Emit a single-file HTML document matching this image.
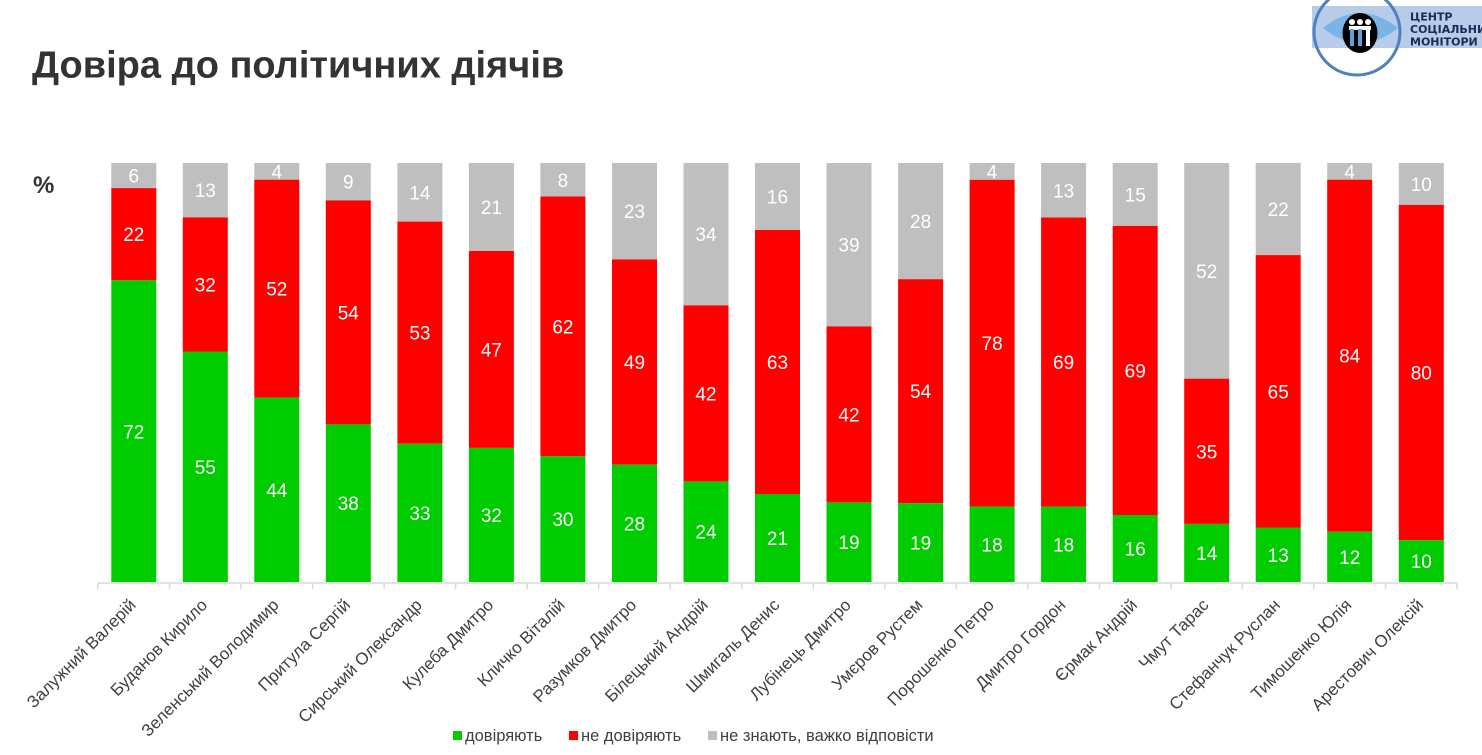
<!DOCTYPE html>
<html>
<head>
<meta charset="utf-8">
<style>
  html,body{margin:0;padding:0;background:#fff;}
  body{width:1482px;height:755px;overflow:hidden;position:relative;}
  svg{position:absolute;left:0;top:0;}
  .t{font-family:"Liberation Sans",Arial,sans-serif;}
</style>
</head>
<body>
<svg width="1482" height="755" viewBox="0 0 1482 755" xmlns="http://www.w3.org/2000/svg">
  <!-- Title -->
  <text class="t" x="32" y="77.5" font-size="38" font-weight="bold" fill="#333333">Довіра до політичних діячів</text>
  <text class="t" x="33" y="193" font-size="24" font-weight="bold" fill="#333333">%</text>

  <!-- Logo -->
  <rect x="1312" y="6" width="170" height="42" fill="#b8cbe8"/>
  <path d="M1323,28 Q1360,-2 1398,28 Q1360,58 1323,28 Z" fill="#7ab4e6"/>
  <ellipse cx="1360" cy="33" rx="17.5" ry="20" fill="#000"/>
  <g fill="#ffffff">
    <circle cx="1352" cy="22" r="3"/><circle cx="1360" cy="22" r="3"/><circle cx="1368" cy="22" r="3"/>
    <rect x="1349" y="26" width="22" height="4"/>
  </g>
  <g fill="#5ba3d9">
    <rect x="1350" y="29" width="4" height="17"/><rect x="1358" y="29" width="4" height="17"/>
  </g>
  <rect x="1366" y="29" width="4" height="17" fill="#ffffff"/>
  <circle cx="1357" cy="32" r="43" fill="none" stroke="#4f81bd" stroke-width="3"/>
  <g font-family="'DejaVu Sans',sans-serif" font-size="11" font-weight="bold" fill="#1b2a55">
    <text x="1410" y="20.5">ЦЕНТР</text>
    <text x="1410" y="33">СОЦІАЛЬНИ</text>
    <text x="1410" y="45.5">МОНІТОРИ</text>
  </g>

  <!-- Axis -->
  <g stroke="#d9d9d9" stroke-width="1.5">
    <line x1="98" y1="583" x2="1457" y2="583"/>
    <line x1="98" y1="583" x2="98" y2="589"/>
    <line x1="169.5" y1="583" x2="169.5" y2="589"/>
    <line x1="241.1" y1="583" x2="241.1" y2="589"/>
    <line x1="312.6" y1="583" x2="312.6" y2="589"/>
    <line x1="384.1" y1="583" x2="384.1" y2="589"/>
    <line x1="455.6" y1="583" x2="455.6" y2="589"/>
    <line x1="527.2" y1="583" x2="527.2" y2="589"/>
    <line x1="598.7" y1="583" x2="598.7" y2="589"/>
    <line x1="670.2" y1="583" x2="670.2" y2="589"/>
    <line x1="741.7" y1="583" x2="741.7" y2="589"/>
    <line x1="813.3" y1="583" x2="813.3" y2="589"/>
    <line x1="884.8" y1="583" x2="884.8" y2="589"/>
    <line x1="956.3" y1="583" x2="956.3" y2="589"/>
    <line x1="1027.8" y1="583" x2="1027.8" y2="589"/>
    <line x1="1099.4" y1="583" x2="1099.4" y2="589"/>
    <line x1="1170.9" y1="583" x2="1170.9" y2="589"/>
    <line x1="1242.4" y1="583" x2="1242.4" y2="589"/>
    <line x1="1313.9" y1="583" x2="1313.9" y2="589"/>
    <line x1="1385.5" y1="583" x2="1385.5" y2="589"/>
    <line x1="1457" y1="583" x2="1457" y2="589"/>
  </g>

  <!-- Bars: gray, red, green -->
  <g>
    <rect x="111.3" y="163" width="45" height="25.1" fill="#bfbfbf"/>
    <rect x="111.3" y="188.1" width="45" height="92.2" fill="#ff0000"/>
    <rect x="111.3" y="280.3" width="45" height="301.7" fill="#00cc00"/>
    <rect x="182.8" y="163" width="45" height="54.4" fill="#bfbfbf"/>
    <rect x="182.8" y="217.4" width="45" height="134.1" fill="#ff0000"/>
    <rect x="182.8" y="351.5" width="45" height="230.5" fill="#00cc00"/>
    <rect x="254.3" y="163" width="45" height="16.7" fill="#bfbfbf"/>
    <rect x="254.3" y="179.7" width="45" height="217.9" fill="#ff0000"/>
    <rect x="254.3" y="397.6" width="45" height="184.4" fill="#00cc00"/>
    <rect x="325.8" y="163" width="45" height="37.4" fill="#bfbfbf"/>
    <rect x="325.8" y="200.4" width="45" height="224.0" fill="#ff0000"/>
    <rect x="325.8" y="424.4" width="45" height="157.6" fill="#00cc00"/>
    <rect x="397.4" y="163" width="45" height="58.6" fill="#bfbfbf"/>
    <rect x="397.4" y="221.6" width="45" height="222.1" fill="#ff0000"/>
    <rect x="397.4" y="443.7" width="45" height="138.3" fill="#00cc00"/>
    <rect x="468.9" y="163" width="45" height="88" fill="#bfbfbf"/>
    <rect x="468.9" y="251" width="45" height="196.9" fill="#ff0000"/>
    <rect x="468.9" y="447.9" width="45" height="134.1" fill="#00cc00"/>
    <rect x="540.4" y="163" width="45" height="33.5" fill="#bfbfbf"/>
    <rect x="540.4" y="196.5" width="45" height="259.8" fill="#ff0000"/>
    <rect x="540.4" y="456.3" width="45" height="125.7" fill="#00cc00"/>
    <rect x="612" y="163" width="45" height="96.4" fill="#bfbfbf"/>
    <rect x="612" y="259.4" width="45" height="205.3" fill="#ff0000"/>
    <rect x="612" y="464.7" width="45" height="117.3" fill="#00cc00"/>
    <rect x="683.5" y="163" width="45" height="142.4" fill="#bfbfbf"/>
    <rect x="683.5" y="305.4" width="45" height="176" fill="#ff0000"/>
    <rect x="683.5" y="481.4" width="45" height="100.6" fill="#00cc00"/>
    <rect x="755" y="163" width="45" height="67" fill="#bfbfbf"/>
    <rect x="755" y="230" width="45" height="264" fill="#ff0000"/>
    <rect x="755" y="494" width="45" height="88" fill="#00cc00"/>
    <rect x="826.5" y="163" width="45" height="163.4" fill="#bfbfbf"/>
    <rect x="826.5" y="326.4" width="45" height="176" fill="#ff0000"/>
    <rect x="826.5" y="502.4" width="45" height="79.6" fill="#00cc00"/>
    <rect x="898.1" y="163" width="45" height="116.2" fill="#bfbfbf"/>
    <rect x="898.1" y="279.2" width="45" height="224" fill="#ff0000"/>
    <rect x="898.1" y="503.2" width="45" height="78.8" fill="#00cc00"/>
    <rect x="969.6" y="163" width="45" height="16.8" fill="#bfbfbf"/>
    <rect x="969.6" y="179.8" width="45" height="326.8" fill="#ff0000"/>
    <rect x="969.6" y="506.6" width="45" height="75.4" fill="#00cc00"/>
    <rect x="1041.1" y="163" width="45" height="54.5" fill="#bfbfbf"/>
    <rect x="1041.1" y="217.5" width="45" height="289.1" fill="#ff0000"/>
    <rect x="1041.1" y="506.6" width="45" height="75.4" fill="#00cc00"/>
    <rect x="1112.7" y="163" width="45" height="62.9" fill="#bfbfbf"/>
    <rect x="1112.7" y="225.9" width="45" height="289.1" fill="#ff0000"/>
    <rect x="1112.7" y="515" width="45" height="67" fill="#00cc00"/>
    <rect x="1184.2" y="163" width="45" height="215.7" fill="#bfbfbf"/>
    <rect x="1184.2" y="378.7" width="45" height="145.2" fill="#ff0000"/>
    <rect x="1184.2" y="523.9" width="45" height="58.1" fill="#00cc00"/>
    <rect x="1255.7" y="163" width="45" height="92.1" fill="#bfbfbf"/>
    <rect x="1255.7" y="255.1" width="45" height="272.4" fill="#ff0000"/>
    <rect x="1255.7" y="527.5" width="45" height="54.5" fill="#00cc00"/>
    <rect x="1327.2" y="163" width="45" height="16.7" fill="#bfbfbf"/>
    <rect x="1327.2" y="179.7" width="45" height="352" fill="#ff0000"/>
    <rect x="1327.2" y="531.7" width="45" height="50.3" fill="#00cc00"/>
    <rect x="1398.8" y="163" width="45" height="41.9" fill="#bfbfbf"/>
    <rect x="1398.8" y="204.9" width="45" height="335.2" fill="#ff0000"/>
    <rect x="1398.8" y="540.1" width="45" height="41.9" fill="#00cc00"/>
  </g>

  <!-- Data labels -->
  <g class="t" font-size="19" fill="#ffffff" text-anchor="middle">
    <text x="133.8" y="182.5">6</text><text x="133.8" y="241.2">22</text><text x="133.8" y="438.7">72</text>
    <text x="205.3" y="197.2">13</text><text x="205.3" y="291.5">32</text><text x="205.3" y="473.8">55</text>
    <text x="276.8" y="178.4">4</text><text x="276.8" y="295.7">52</text><text x="276.8" y="496.8">44</text>
    <text x="348.3" y="188.7">9</text><text x="348.3" y="319.4">54</text><text x="348.3" y="510.2">38</text>
    <text x="419.9" y="199.3">14</text><text x="419.9" y="339.7">53</text><text x="419.9" y="519.9">33</text>
    <text x="491.4" y="214">21</text><text x="491.4" y="356.5">47</text><text x="491.4" y="522">32</text>
    <text x="562.9" y="186.8">8</text><text x="562.9" y="333.4">62</text><text x="562.9" y="526.2">30</text>
    <text x="634.5" y="218.2">23</text><text x="634.5" y="369.1">49</text><text x="634.5" y="530.4">28</text>
    <text x="706" y="241.2">34</text><text x="706" y="400.4">42</text><text x="706" y="538.7">24</text>
    <text x="777.5" y="203.5">16</text><text x="777.5" y="369">63</text><text x="777.5" y="545">21</text>
    <text x="849" y="251.7">39</text><text x="849" y="421.4">42</text><text x="849" y="549.2">19</text>
    <text x="920.6" y="228.1">28</text><text x="920.6" y="398.2">54</text><text x="920.6" y="549.6">19</text>
    <text x="992.1" y="178.4">4</text><text x="992.1" y="350.2">78</text><text x="992.1" y="551.3">18</text>
    <text x="1063.6" y="197.3">13</text><text x="1063.6" y="369.1">69</text><text x="1063.6" y="551.3">18</text>
    <text x="1135.2" y="201.5">15</text><text x="1135.2" y="377.5">69</text><text x="1135.2" y="555.5">16</text>
    <text x="1206.7" y="277.9">52</text><text x="1206.7" y="458.3">35</text><text x="1206.7" y="560">14</text>
    <text x="1278.2" y="216.1">22</text><text x="1278.2" y="398.3">65</text><text x="1278.2" y="561.8">13</text>
    <text x="1349.7" y="178.4">4</text><text x="1349.7" y="362.7">84</text><text x="1349.7" y="563.9">12</text>
    <text x="1421.3" y="191">10</text><text x="1421.3" y="379.5">80</text><text x="1421.3" y="568.1">10</text>
  </g>

  <!-- Category labels -->
  <g class="t" font-size="17" fill="#404040" text-anchor="end">
    <text x="136.8" y="606" transform="rotate(-45 136.8 606)">Залужний Валерій</text>
    <text x="208.3" y="606" transform="rotate(-45 208.3 606)">Буданов Кирило</text>
    <text x="279.8" y="606" transform="rotate(-45 279.8 606)">Зеленський Володимир</text>
    <text x="351.3" y="606" transform="rotate(-45 351.3 606)">Притула Сергій</text>
    <text x="422.9" y="606" transform="rotate(-45 422.9 606)">Сирський Олександр</text>
    <text x="494.4" y="606" transform="rotate(-45 494.4 606)">Кулеба Дмитро</text>
    <text x="565.9" y="606" transform="rotate(-45 565.9 606)">Кличко Віталій</text>
    <text x="637.5" y="606" transform="rotate(-45 637.5 606)">Разумков Дмитро</text>
    <text x="709" y="606" transform="rotate(-45 709 606)">Білецький Андрій</text>
    <text x="780.5" y="606" transform="rotate(-45 780.5 606)">Шмигаль Денис</text>
    <text x="852" y="606" transform="rotate(-45 852 606)">Лубінець Дмитро</text>
    <text x="923.6" y="606" transform="rotate(-45 923.6 606)">Умєров Рустем</text>
    <text x="995.1" y="606" transform="rotate(-45 995.1 606)">Порошенко Петро</text>
    <text x="1066.6" y="606" transform="rotate(-45 1066.6 606)">Дмитро Гордон</text>
    <text x="1138.2" y="606" transform="rotate(-45 1138.2 606)">Єрмак Андрій</text>
    <text x="1209.7" y="606" transform="rotate(-45 1209.7 606)">Чмут Тарас</text>
    <text x="1281.2" y="606" transform="rotate(-45 1281.2 606)">Стефанчук Руслан</text>
    <text x="1352.7" y="606" transform="rotate(-45 1352.7 606)">Тимошенко Юлія</text>
    <text x="1424.3" y="606" transform="rotate(-45 1424.3 606)">Арестович Олексій</text>
  </g>

  <!-- Legend -->
  <rect x="453" y="731" width="9" height="9" fill="#00cc00"/>
  <rect x="569" y="731" width="9" height="9" fill="#ff0000"/>
  <rect x="708" y="731" width="9" height="9" fill="#bfbfbf"/>
  <g class="t" font-size="16.5" fill="#404040">
    <text x="465" y="741">довіряють</text>
    <text x="581" y="741">не довіряють</text>
    <text x="720" y="741">не знають, важко відповісти</text>
  </g>
</svg>
</body>
</html>
